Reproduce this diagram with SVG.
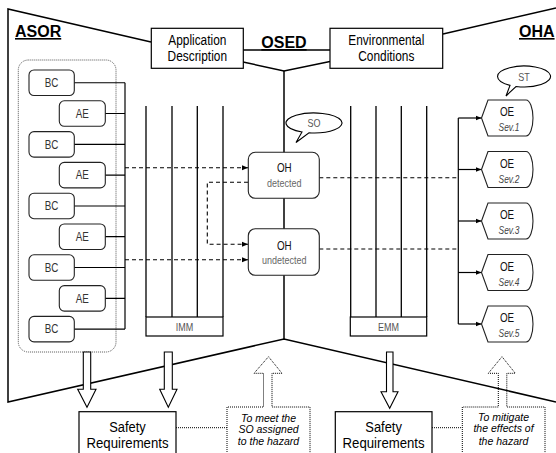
<svg xmlns="http://www.w3.org/2000/svg" width="556" height="453" viewBox="0 0 556 453">
<style>
.n{font-family:"Liberation Sans",Arial,sans-serif;}
.t{font-family:"Liberation Sans",Arial,sans-serif;font-weight:bold;font-size:16px;text-decoration:underline;fill:#000;}
.ln{fill:none;stroke:#000;stroke-width:1.5;}
.box{fill:#fff;stroke:#000;stroke-width:1.2;}
.rb{fill:#fff;stroke:#222;stroke-width:1.1;}
.col{fill:none;stroke:#000;stroke-width:1.3;}
.dash{fill:none;stroke:#000;stroke-width:1.1;stroke-dasharray:4,3;}
.dot{fill:none;stroke:#000;stroke-width:1;stroke-dasharray:1,1;}
.dotg{fill:none;stroke:#555;stroke-width:1;stroke-dasharray:1,1;}
.c{fill:none;stroke:#000;stroke-width:1.2;}
.big{font-size:14.5px;fill:#000;text-anchor:middle;}
.sr{font-size:15px;fill:#000;text-anchor:middle;}
.sm{font-size:12px;fill:#333;text-anchor:middle;}
.oh{font-size:12px;fill:#111;text-anchor:middle;}
.xs{font-size:11px;fill:#555;text-anchor:middle;}
.gr{font-size:11px;fill:#666;text-anchor:middle;}
.sev{font-size:10.5px;fill:#444;font-style:italic;text-anchor:middle;}
.it{font-size:10.5px;fill:#000;font-style:italic;text-anchor:middle;}
.hol{fill:#fff;stroke:#000;stroke-width:1.1;}
</style>
<defs>
<marker id="ah" markerWidth="6" markerHeight="6" refX="6" refY="3" orient="auto" markerUnits="userSpaceOnUse"><path d="M0,0.5 L6,3 L0,5.5 z" fill="#000"/></marker>
</defs>

<g id="frame">
<path class="ln" d="M151,42 L8,9 L8,402 L284,339 L556,402"/>
<path class="ln" d="M443,34 L556,8"/>
<path class="ln" d="M243,50 H330"/>
<path class="ln" d="M243,62 L284,71 L330,61.5"/>
<path class="ln" d="M284,71 V339"/>
</g>

<text class="t" x="15" y="37">ASOR</text>
<text class="t" x="284" y="48" text-anchor="middle">OSED</text>
<text class="t" x="519" y="37">OHA</text>

<g id="app-desc">
<rect class="box" x="151.3" y="28.3" width="92" height="40"/>
<text class="n big" transform="translate(197.3,45) scale(0.82,1)">Application</text>
<text class="n big" transform="translate(197.3,61) scale(0.82,1)">Description</text>
</g>
<g id="env-cond">
<rect class="box" x="330" y="28.3" width="112.7" height="40"/>
<text class="n big" transform="translate(386.3,45) scale(0.82,1)">Environmental</text>
<text class="n big" transform="translate(386.3,61) scale(0.82,1)">Conditions</text>
</g>

<g id="asor-group">
<rect class="dotg" x="18.3" y="60" width="97.7" height="292" rx="10"/>
</g>

<g id="connectors">
<path class="c" d="M125,82.75 V329.1"/>
<path class="c" d="M74,82.75 H125 M105,113.5 H125 M74,144.3 H125 M105,175.1 H125 M74,206 H125 M105,236.7 H125 M74,267.5 H125 M105,298.3 H125 M74,329.1 H125"/>
<path class="dash" d="M125,167.7 H248" marker-end="url(#ah)"/>
<path class="dash" d="M248,182.3 H207.3 V244.3 H248" marker-end="url(#ah)"/>
<path class="dash" d="M125,259.7 H248" marker-end="url(#ah)"/>
<path class="dash" d="M319.3,177.7 H458"/>
<path class="dash" d="M319.3,249 H458"/>
<path class="c" d="M458.3,118 V324"/>
<path class="c" d="M458.3,118 H481.5" marker-end="url(#ah)"/>
<path class="c" d="M458.3,169.5 H481.5" marker-end="url(#ah)"/>
<path class="c" d="M458.3,221 H481.5" marker-end="url(#ah)"/>
<path class="c" d="M458.3,272.5 H481.5" marker-end="url(#ah)"/>
<path class="c" d="M458.3,324 H481.5" marker-end="url(#ah)"/>
<path class="dot" d="M176,427.7 H227"/>
<path class="dot" d="M432,427.7 H462"/>
</g>

<g id="bc1"><rect class="rb" x="29" y="70" width="45.3" height="25.5" rx="5"/><text class="n sm" transform="translate(51.6,87) scale(0.82,1)">BC</text></g>
<g id="ae1"><rect class="rb" x="59.3" y="100.8" width="46" height="25.5" rx="5"/><text class="n sm" transform="translate(82.3,117.8) scale(0.82,1)">AE</text></g>
<g id="bc2"><rect class="rb" x="29" y="131.6" width="45.3" height="25.5" rx="5"/><text class="n sm" transform="translate(51.6,148.6) scale(0.82,1)">BC</text></g>
<g id="ae2"><rect class="rb" x="59.3" y="162.4" width="46" height="25.5" rx="5"/><text class="n sm" transform="translate(82.3,179.4) scale(0.82,1)">AE</text></g>
<g id="bc3"><rect class="rb" x="29" y="193.2" width="45.3" height="25.5" rx="5"/><text class="n sm" transform="translate(51.6,210.2) scale(0.82,1)">BC</text></g>
<g id="ae3"><rect class="rb" x="59.3" y="224" width="46" height="25.5" rx="5"/><text class="n sm" transform="translate(82.3,241) scale(0.82,1)">AE</text></g>
<g id="bc4"><rect class="rb" x="29" y="254.8" width="45.3" height="25.5" rx="5"/><text class="n sm" transform="translate(51.6,271.8) scale(0.82,1)">BC</text></g>
<g id="ae4"><rect class="rb" x="59.3" y="285.6" width="46" height="25.5" rx="5"/><text class="n sm" transform="translate(82.3,302.6) scale(0.82,1)">AE</text></g>
<g id="bc5"><rect class="rb" x="29" y="316.4" width="45.3" height="25.5" rx="5"/><text class="n sm" transform="translate(51.6,333.4) scale(0.82,1)">BC</text></g>

<g id="imm">
<path class="col" d="M146,106 V317 M172,106 V317 M197.3,106 V317 M223,106 V317"/>
<rect class="box" x="146" y="317" width="77" height="19"/>
<text class="n xs" transform="translate(184.5,330.5) scale(0.82,1)">IMM</text>
</g>
<g id="emm">
<path class="col" d="M350.7,106 V317 M376,106 V317 M401.3,106 V317 M426.7,106 V317"/>
<rect class="box" x="350.3" y="317" width="76.4" height="19"/>
<text class="n xs" transform="translate(388.5,330.5) scale(0.82,1)">EMM</text>
</g>

<g id="so-bubble">
<path class="hol" d="M302,132 A28,10 0 1 1 309,132.8 L296,142.5 Z"/>
<text class="n xs" transform="translate(314,127) scale(0.82,1)">SO</text>
</g>
<g id="st-bubble">
<path class="hol" d="M510,85.4 A26.5,10.5 0 1 1 516,86.5 L506,96 Z"/>
<text class="n xs" transform="translate(524,80.5) scale(0.82,1)">ST</text>
</g>

<g id="oh-detected">
<rect class="rb" x="248.3" y="152.3" width="71" height="46" rx="7"/>
<text class="n oh" transform="translate(284.3,172) scale(0.82,1)">OH</text>
<text class="n gr" transform="translate(284.3,187) scale(0.82,1)">detected</text>
</g>
<g id="oh-undetected">
<rect class="rb" x="248.3" y="228.7" width="71" height="46.6" rx="7"/>
<text class="n oh" transform="translate(284.3,250) scale(0.82,1)">OH</text>
<text class="n gr" transform="translate(284.3,264) scale(0.82,1)">undetected</text>
</g>

<g id="oe1"><path class="rb" d="M481.5,118 L488,100 H526 A7,18 0 0 1 526,136 H488 Z"/><text class="n oh" transform="translate(507,116) scale(0.82,1)">OE</text><text class="n sev" transform="translate(509,131) scale(0.8,1)">Sev.1</text></g>
<g id="oe2"><path class="rb" d="M481.5,169.5 L488,151.5 H526 A7,18 0 0 1 526,187.5 H488 Z"/><text class="n oh" transform="translate(507,167.5) scale(0.82,1)">OE</text><text class="n sev" transform="translate(509,182.5) scale(0.8,1)">Sev.2</text></g>
<g id="oe3"><path class="rb" d="M481.5,221 L488,203 H526 A7,18 0 0 1 526,239 H488 Z"/><text class="n oh" transform="translate(507,219) scale(0.82,1)">OE</text><text class="n sev" transform="translate(509,234) scale(0.8,1)">Sev.3</text></g>
<g id="oe4"><path class="rb" d="M481.5,272.5 L488,254.5 H526 A7,18 0 0 1 526,290.5 H488 Z"/><text class="n oh" transform="translate(507,270.5) scale(0.82,1)">OE</text><text class="n sev" transform="translate(509,285.5) scale(0.8,1)">Sev.4</text></g>
<g id="oe5"><path class="rb" d="M481.5,324 L488,306 H526 A7,18 0 0 1 526,342 H488 Z"/><text class="n oh" transform="translate(507,322) scale(0.82,1)">OE</text><text class="n sev" transform="translate(509,337) scale(0.8,1)">Sev.5</text></g>

<g id="arrow-asor"><path class="hol" d="M83.3,352 H90.7 V389.3 H96 L87,407.3 L77.7,389.3 H83.3 Z"/></g>
<g id="arrow-imm"><path class="hol" d="M164.3,352 H172.3 V389.3 H177 L168.3,407.3 L159.7,389.3 H164.3 Z"/></g>
<g id="arrow-emm"><path class="hol" d="M386.5,352 H393 V391.7 H398 L389.7,408.3 L381,391.7 H386.5 Z"/></g>

<g id="safety-left">
<rect class="box" x="79" y="411.7" width="97" height="50"/>
<text class="n sr" transform="translate(127.5,431.7) scale(0.86,1)">Safety</text>
<text class="n sr" transform="translate(127.5,448.3) scale(0.88,1)">Requirements</text>
</g>
<g id="safety-right">
<rect class="box" x="335.3" y="411.7" width="96.7" height="50"/>
<text class="n sr" transform="translate(383.6,431.7) scale(0.86,1)">Safety</text>
<text class="n sr" transform="translate(383.6,448.3) scale(0.88,1)">Requirements</text>
</g>

<g id="note-left">
<path class="dot" d="M227,460 V407 H263.5 V373.3 H254 L268.5,356.7 L282,373.3 H272 V407 H310 V460"/>
<text class="n it" x="268.5" y="421.5">To meet the</text>
<text class="n it" x="268.5" y="433.3">SO assigned</text>
<text class="n it" x="268.5" y="445">to the hazard</text>
</g>
<g id="note-right">
<path class="dot" d="M462.3,460 V407 H498.3 V373.3 H488.3 L502,356.7 L515.3,373.3 H506.8 V407 H545 V460"/>
<text class="n it" x="503.5" y="420.5">To mitigate</text>
<text class="n it" x="503.5" y="432.3">the effects of</text>
<text class="n it" x="503.5" y="444.5">the hazard</text>
</g>
</svg>
